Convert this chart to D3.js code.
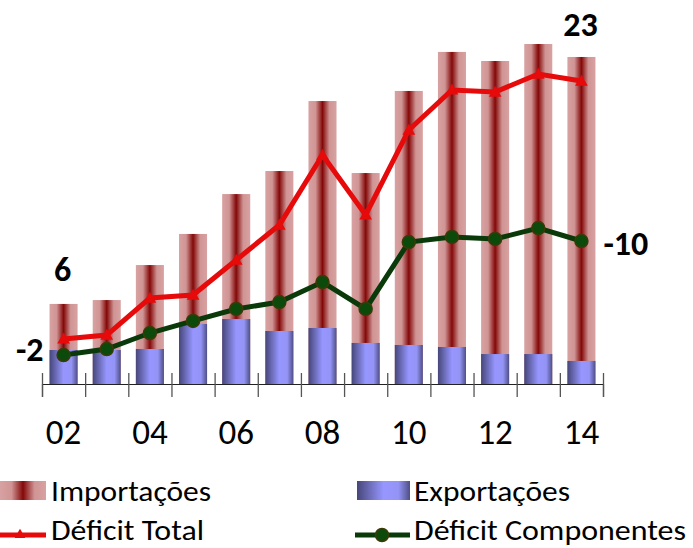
<!DOCTYPE html>
<html>
<head>
<meta charset="utf-8">
<script src="https://cdn.jsdelivr.net/npm/d3@7"></script>
<style>
  body { margin: 0; background: #fff; }
  text { font-family: Carlito, Calibri, Lato, sans-serif; }
</style>
</head>
<body>
<div id="chart"></div>
<script>
const anos = ["02","03","04","05","06","07","08","09","10","11","12","13","14"];
const rotulosAnos = ["02","04","06","08","10","12","14"];
const importacoes = [5.56, 5.83, 8.26, 10.42, 13.19, 14.79, 19.65, 14.65, 20.35, 23.06, 22.43, 23.61, 22.71];
const exportacoes = [2.36, 2.36, 2.43, 4.17, 4.51, 3.68, 3.89, 2.85, 2.71, 2.57, 2.08, 2.08, 1.60];
const deficitTotal = [-3.13, -3.40, -5.97, -6.18, -8.61, -11.04, -15.9, -11.74, -17.64, -20.42, -20.28, -21.53, -21.04];
const deficitComponentes = [-2.01, -2.43, -3.54, -4.38, -5.21, -5.69, -7.08, -5.21, -9.86, -10.21, -10.07, -10.83, -9.93];

const W = 693, H = 548;
const svg = d3.select("#chart").append("svg")
	.attr("width", W)
	.attr("height", H);

const defs = svg.append("defs");
const gImp = defs.append("linearGradient").attr("id", "gradImp");
[[0, "#d8a2a2"], [0.25, "#d09494"], [0.5, "#840808"], [0.75, "#d09494"], [1, "#d8a2a2"]]
	.forEach(s => gImp.append("stop").attr("offset", s[0]).attr("stop-color", s[1]));
const gExp = defs.append("linearGradient").attr("id", "gradExp");
[[0, "#46467a"], [0.5, "#9696ff"], [0.78, "#9494f6"], [1, "#4e4e86"]]
	.forEach(s => gExp.append("stop").attr("offset", s[0]).attr("stop-color", s[1]));

// scales
const x = d3.scaleBand()
	.domain(anos)
	.range([42, 603])
	.paddingInner(0.35)
	.paddingOuter(0.175);
const y = d3.scaleLinear()
	.domain([0, 25])
	.range([384, 24]);
const cx = (d, i) => x(anos[i]) + x.bandwidth() / 2;
const fmt = v => String(Math.round(v)); // plain hyphen for negatives

// import bars (behind)
svg.selectAll(".imp")
	.data(importacoes)
	.enter().append("rect")
	.attr("class", "imp")
	.attr("x", (d, i) => x(anos[i]))
	.attr("width", x.bandwidth())
	.attr("y", d => y(d))
	.attr("height", d => y(0) - y(d))
	.attr("fill", "url(#gradImp)");

// export bars (front)
svg.selectAll(".exp")
	.data(exportacoes)
	.enter().append("rect")
	.attr("class", "exp")
	.attr("x", (d, i) => x(anos[i]))
	.attr("width", x.bandwidth())
	.attr("y", d => y(d))
	.attr("height", d => y(0) - y(d))
	.attr("fill", "url(#gradExp)");

// x axis: boundary ticks
const xb = d3.scaleLinear().domain([0, anos.length]).range(x.range());
svg.append("g")
	.attr("transform", "translate(0," + y(0) + ")")
	.call(d3.axisBottom(xb).tickValues(d3.range(anos.length + 1)).tickSize(13).tickFormat(""))
	.call(g => g.select(".domain").attr("stroke", "#222").attr("stroke-width", 1.2))
	.call(g => g.selectAll(".tick line").attr("y1", -11).attr("stroke", "#555").attr("stroke-width", 1.3));

// x axis: labels
svg.append("g")
	.attr("transform", "translate(0," + y(0) + ")")
	.call(d3.axisBottom(x).tickValues(rotulosAnos).tickSize(0).tickPadding(35))
	.call(g => g.select(".domain").remove())
	.call(g => g.selectAll("text").attr("font-size", 35).attr("fill", "#000")
		.style("font-family", "Carlito, Calibri, Lato, sans-serif"));

// lines
const line = d3.line()
	.x((d, i) => cx(d, i))
	.y(d => y(-d));

svg.append("path")
	.attr("d", line(deficitTotal))
	.attr("fill", "none")
	.attr("stroke", "#e60a0a")
	.attr("stroke-width", 5)
	.attr("stroke-linejoin", "miter");

svg.selectAll(".tri")
	.data(deficitTotal)
	.enter().append("path")
	.attr("class", "tri")
	.attr("d", d3.symbol(d3.symbolTriangle, 70))
	.attr("transform", (d, i) => "translate(" + cx(d, i) + "," + (y(-d) + 1) + ")")
	.attr("fill", "#e60a0a");

svg.append("path")
	.attr("d", line(deficitComponentes))
	.attr("fill", "none")
	.attr("stroke", "#0a3a0a")
	.attr("stroke-width", 5);

svg.selectAll(".dot")
	.data(deficitComponentes)
	.enter().append("circle")
	.attr("class", "dot")
	.attr("cx", (d, i) => cx(d, i))
	.attr("cy", d => y(-d))
	.attr("r", 6.5)
	.attr("fill", "#0b4a0b")
	.attr("stroke", "#3b3b08")
	.attr("stroke-width", 1.5);

// data labels
const last = anos.length - 1;
const lab = (t, px, py, anchor) => svg.append("text")
	.attr("x", px).attr("y", py)
	.attr("text-anchor", anchor)
	.attr("dominant-baseline", "central")
	.attr("font-size", 34)
	.attr("font-weight", "bold")
	.text(t);
lab(fmt(importacoes[0]), cx(0, 0) - 1, y(importacoes[0]) - 34, "middle");
lab(fmt(importacoes[last]), cx(0, last) - 1, y(importacoes[last]) - 32, "middle");
lab(fmt(deficitComponentes[0]), cx(0, 0) - 20, y(-deficitComponentes[0]) - 6, "end");
lab(fmt(deficitComponentes[last]), cx(0, last) + 22, y(-deficitComponentes[last]) + 2, "start");

// legend
const leg = svg.append("g");
leg.append("rect").attr("x", 0).attr("y", 481).attr("width", 46).attr("height", 19).attr("fill", "url(#gradImp)");
leg.append("rect").attr("x", 357).attr("y", 481).attr("width", 53).attr("height", 19).attr("fill", "url(#gradExp)");
leg.append("line").attr("x1", 0).attr("x2", 46).attr("y1", 535).attr("y2", 535)
	.attr("stroke", "#e60a0a").attr("stroke-width", 5);
leg.append("path").attr("d", d3.symbol(d3.symbolTriangle, 50))
	.attr("transform", "translate(20,535)").attr("fill", "#e60a0a");
leg.append("line").attr("x1", 355).attr("x2", 410).attr("y1", 535).attr("y2", 535)
	.attr("stroke", "#0a3a0a").attr("stroke-width", 5);
leg.append("circle").attr("cx", 382).attr("cy", 535).attr("r", 6.5)
	.attr("fill", "#0b4a0b").attr("stroke", "#3b3b08").attr("stroke-width", 1.5);

// name, x, y, width in the picture
const legTxt = [["Importações", 51, 491, 160], ["Exportações", 414, 491, 156],
	["Déficit Total", 51, 530, 153], ["Déficit Componentes", 414, 530, 272]];
leg.selectAll(".lt")
	.data(legTxt)
	.enter().append("text")
	.attr("class", "lt")
	.attr("x", d => d[1])
	.attr("y", d => d[2])
	.attr("dominant-baseline", "central")
	.attr("font-size", 28)
	.attr("textLength", d => d[3])
	.attr("lengthAdjust", "spacingAndGlyphs")
	.text(d => d[0]);
</script>
</body>
</html>
